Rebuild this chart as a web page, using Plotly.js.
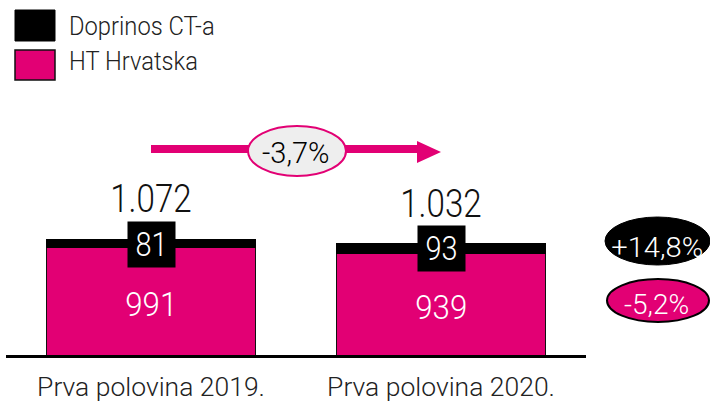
<!DOCTYPE html>
<html>
<head>
<meta charset="utf-8">
<script src="https://cdn.plot.ly/plotly-3.0.1.min.js"></script>
<style>html,body{margin:0;padding:0;background:#fff;}#chart{width:710px;height:403px;}</style>
</head>
<body>
<div id="chart"></div>
<script>
// ---- data ----
const categories = ['Prva polovina 2019.', 'Prva polovina 2020.'];
const htHrvatska = [991, 939];
const doprinosCT = [81, 93];
const seriesNames = ['Doprinos CT-a', 'HT Hrvatska'];

const MAGENTA = '#E20074';
const FONT = 'Roboto, "Liberation Sans", Arial, sans-serif';
const WEIGHT = 300;

// ---- helpers ----
const W = 710, H = 403, L = 6, R = 124, T = 0, B = 48;
const PW = W - L - R, PH = H - T - B;
const px = x => (x - L) / PW;
const py = y => (H - B - y) / PH;
const fmtThousands = v => String(v).replace(/\B(?=(\d{3})+(?!\d))/g, '.');
const fmtPct = v => (v > 0 ? '+' : '') + v.toFixed(1).replace('.', ',') + '%';

const totals = htHrvatska.map((v, i) => v + doprinosCT[i]);
const totalChange = (totals[1] - totals[0]) / totals[0] * 100;
const ctChange = (doprinosCT[1] - doprinosCT[0]) / doprinosCT[0] * 100;
const htChange = (htHrvatska[1] - htHrvatska[0]) / htHrvatska[0] * 100;

const traces = [
  {type: 'bar', x: categories, y: htHrvatska, name: seriesNames[1],
   marker: {color: MAGENTA, line: {color: '#111', width: 1}}, hoverinfo: 'skip'},
  {type: 'bar', x: categories, y: doprinosCT, name: seriesNames[0],
   marker: {color: '#000', line: {color: '#000', width: 1}}, hoverinfo: 'skip'}
];

const annotations = [];
const squeezeFactors = [];
function addAnn(a, s) { a.font.weight = WEIGHT; annotations.push(a); squeezeFactors.push(s); }

categories.forEach((c, i) => {
  addAnn({x: c, y: totals[i], xref: 'x', yref: 'y', text: fmtThousands(totals[i]),
    showarrow: false, yanchor: 'middle', yshift: 40, font: {family: FONT, size: 39, color: '#111'}}, 0.85);
  addAnn({x: c, y: totals[i], xref: 'x', yref: 'y', text: String(doprinosCT[i]),
    showarrow: false, yanchor: 'middle', yshift: -5, bgcolor: '#000', width: 45, height: 43,
    font: {family: FONT, size: 34, color: '#fff'}}, 0.85);
  addAnn({x: c, y: htHrvatska[i] / 2, xref: 'x', yref: 'y', text: String(htHrvatska[i]),
    showarrow: false, yanchor: 'middle', yshift: -3, font: {family: FONT, size: 34, color: '#fff'}}, 0.92);
});
// change labels
addAnn({x: px(296), y: py(153), xref: 'paper', yref: 'paper', text: fmtPct(totalChange),
  showarrow: false, xanchor: 'center', yanchor: 'middle', font: {family: FONT, size: 29, color: '#000'}}, 1.0);
addAnn({x: px(657), y: py(247), xref: 'paper', yref: 'paper', text: fmtPct(ctChange),
  showarrow: false, xanchor: 'center', yanchor: 'middle', font: {family: FONT, size: 28, color: '#fff'}}, 1.04);
addAnn({x: px(656.5), y: py(304.5), xref: 'paper', yref: 'paper', text: fmtPct(htChange),
  showarrow: false, xanchor: 'center', yanchor: 'middle', font: {family: FONT, size: 28, color: '#fff'}}, 1.0);
// legend text
addAnn({x: px(67), y: py(26), xref: 'paper', yref: 'paper', text: seriesNames[0], align: 'left',
  showarrow: false, xanchor: 'left', yanchor: 'middle', font: {family: FONT, size: 25, color: '#222'}}, 0.95);
addAnn({x: px(67), y: py(61), xref: 'paper', yref: 'paper', text: seriesNames[1], align: 'left',
  showarrow: false, xanchor: 'left', yanchor: 'middle', font: {family: FONT, size: 25, color: '#222'}}, 0.95);

const TICK_SQUEEZE = 1.06;

const shapes = [
  // legend boxes
  {type: 'rect', xref: 'paper', yref: 'paper', x0: px(15), x1: px(55), y0: py(10), y1: py(41),
   fillcolor: '#000', line: {color: '#000', width: 1}},
  {type: 'rect', xref: 'paper', yref: 'paper', x0: px(15), x1: px(55), y0: py(50), y1: py(80),
   fillcolor: MAGENTA, line: {color: '#111', width: 1.5}},
  // arrow
  {type: 'line', xref: 'paper', yref: 'paper', x0: px(151), x1: px(420), y0: py(149), y1: py(149),
   line: {color: MAGENTA, width: 8}},
  {type: 'path', xref: 'paper', yref: 'paper',
   path: `M ${px(417)} ${py(141)} L ${px(441)} ${py(152)} L ${px(417)} ${py(163)} Z`,
   fillcolor: MAGENTA, line: {color: MAGENTA, width: 0}},
  // ellipse -3,7%
  {type: 'circle', xref: 'paper', yref: 'paper', x0: px(248), x1: px(346), y0: py(126), y1: py(176),
   fillcolor: '#eeeeee', line: {color: MAGENTA, width: 2}},
  // right ellipses
  {type: 'circle', xref: 'paper', yref: 'paper', x0: px(605), x1: px(710), y0: py(217), y1: py(265),
   fillcolor: '#000', line: {color: '#000', width: 1}},
  {type: 'circle', xref: 'paper', yref: 'paper', x0: px(607), x1: px(709), y0: py(279), y1: py(322),
   fillcolor: MAGENTA, line: {color: '#000', width: 2}}
];

const layout = {
  width: W, height: H,
  margin: {l: L, r: R, t: T, b: B, pad: 0},
  paper_bgcolor: '#fff', plot_bgcolor: '#fff',
  barmode: 'stack', bargap: 0.276,
  showlegend: false,
  xaxis: {type: 'category', range: [-0.5, 1.5], showline: true, linecolor: '#000', linewidth: 3,
    ticks: '', showgrid: false, zeroline: false, fixedrange: true, ticklabelstandoff: 8,
    tickfont: {family: FONT, size: 25, color: '#222', weight: WEIGHT}},
  yaxis: {range: [0, PH / 0.108], visible: false, showgrid: false, zeroline: false, fixedrange: true},
  annotations: annotations,
  shapes: shapes
};

// adjust glyph widths horizontally to mimic the condensed typeface of the original
function scaleText(t, s) {
  const x = parseFloat(t.getAttribute('x')) || 0;
  const prev = t.getAttribute('transform') || '';
  t.setAttribute('transform', prev + ` translate(${x},0) scale(${s},1) translate(${-x},0)`);
}
function squeeze(gd) {
  gd.querySelectorAll('g.annotation').forEach(g => {
    const idx = +g.getAttribute('data-index');
    const s = squeezeFactors[idx];
    if (!s || s === 1) return;
    const t = g.querySelector('text.annotation-text');
    if (t) scaleText(t, s);
  });
  gd.querySelectorAll('g.xtick text').forEach(t => scaleText(t, TICK_SQUEEZE));
}

Plotly.newPlot('chart', traces, layout, {staticPlot: true, displayModeBar: false})
  .then(gd => squeeze(gd));
</script>
</body>
</html>
